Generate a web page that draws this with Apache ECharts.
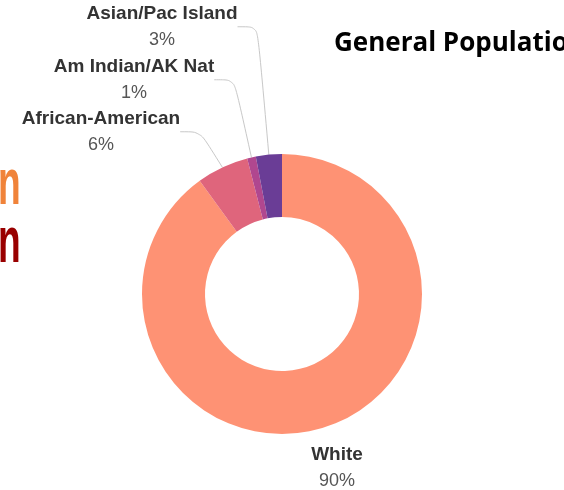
<!DOCTYPE html>
<html>
<head>
<meta charset="utf-8">
<script src="https://cdn.jsdelivr.net/npm/echarts@6/dist/echarts.min.js"></script>
<style>
  html, body { margin: 0; padding: 0; background: #fff; }
  #chart { width: 564px; height: 490px; }
</style>
</head>
<body>
<div id="chart"></div>
<script>
// Race / ethnicity breakdown of the general population (percent)
const categories = ['White', 'African-American', 'Am Indian/AK Nat', 'Asian/Pac Island'];
const shares = [90, 6, 1, 3];
const sliceColors = ['#fe9274', '#df657c', '#b0478f', '#6a3d96'];

// Where each label block sits (centre of the two-line label)
const labelAnchors = [
  [337, 468],
  [101, 132],
  [134, 80],
  [162, 27]
];

const chart = echarts.init(document.getElementById('chart'), null, { renderer: 'canvas' });

chart.setOption({
  animation: false,
  backgroundColor: '#fff',
  graphic: [
    {
      type: 'text', left: 334, top: 31,
      style: { text: 'General Population', fill: '#000', font: 'bold 26px "Open Sans"' }
    },
    {
      type: 'text', x: -2, y: 154, scaleX: 0.58,
      style: { text: 'n', fill: '#f0833a', font: 'bold 64px "Liberation Sans"' }
    },
    {
      type: 'text', x: -2, y: 212, scaleX: 0.58,
      style: { text: 'n', fill: '#990000', font: 'bold 64px "Liberation Sans"' }
    }
  ],
  series: [{
    type: 'pie',
    center: [282, 294],
    radius: [77, 140],
    startAngle: 90,
    clockwise: true,
    avoidLabelOverlap: false,
    data: categories.map((name, i) => ({
      name,
      value: shares[i],
      itemStyle: { color: sliceColors[i] },
      labelLine: { show: i !== 0 }
    })),
    label: {
      show: true,
      position: 'outside',
      formatter: '{n|{b}}\n{v|{c}%}',
      rich: {
        n: { fontFamily: '"Liberation Sans", Arial', fontWeight: 'bold', fontSize: 19, color: '#333', lineHeight: 26 },
        v: { fontFamily: '"Liberation Sans", Arial', fontSize: 18, color: '#555', lineHeight: 26 }
      },
      align: 'center'
    },
    labelLine: {
      show: true,
      length: 20,
      length2: 20,
      smooth: 0.3,
      lineStyle: { color: '#c8c8c8', width: 1 }
    },
    labelLayout: function (p) {
      const a = labelAnchors[p.dataIndex];
      return { x: a[0], y: a[1], align: 'center', verticalAlign: 'middle' };
    },
    emphasis: { disabled: true }
  }]
});
</script>
</body>
</html>
